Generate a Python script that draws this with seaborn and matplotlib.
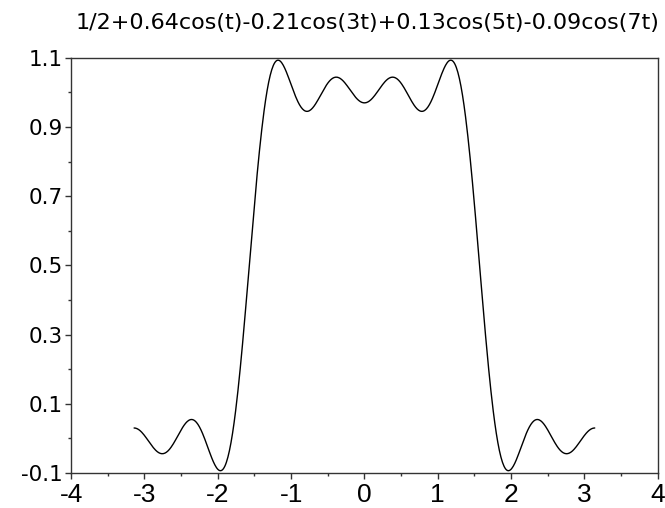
import numpy as np
import pandas as pd
import matplotlib
matplotlib.use('Agg')
import matplotlib.pyplot as plt
import seaborn as sns

# partial Fourier sum of the square wave shown in the title
coefs = [0.5, 0.64, -0.21, 0.13, -0.09]
harmonics = [0, 1, 3, 5, 7]
t = np.linspace(-np.pi, np.pi, 600)

x_ticks = [-4, -3, -2, -1, 0, 1, 2, 3, 4]
x_minor = [-3.5, -2.5, -1.5, -0.5, 0.5, 1.5, 2.5, 3.5]
y_ticks = [-0.1, 0.1, 0.3, 0.5, 0.7, 0.9, 1.1]
y_minor = [0.0, 0.2, 0.4, 0.6, 0.8, 1.0]

y = sum(c * np.cos(k * t) for c, k in zip(coefs, harmonics))
df = pd.DataFrame({'t': t, 'f': y})

sns.set_style('ticks')
plt.rcParams['font.family'] = ['DejaVu Sans']
plt.rcParams['text.color'] = 'black'
plt.rcParams['xtick.labelcolor'] = 'black'
plt.rcParams['ytick.labelcolor'] = 'black'

fig = plt.figure(figsize=(6.65, 5.08), dpi=100)
ax = fig.add_axes([0.107, 0.069, 0.882, 0.817])

sns.lineplot(data=df, x='t', y='f', color='black', linewidth=1.0, ax=ax)

ax.set_xlim(-4, 4)
ax.set_ylim(-0.1, 1.1)
ax.set_xticks(x_ticks)
ax.set_xticks(x_minor, minor=True)
ax.set_yticks(y_ticks)
ax.set_yticks(y_minor, minor=True)
ax.set_xticklabels([str(v) for v in x_ticks],
                   family=['Liberation Sans', 'DejaVu Sans'], fontsize=19)
ax.set_yticklabels([f'{v:.1f}' for v in y_ticks], fontsize=15.5)

ax.tick_params(which='major', length=4.5, width=1, color='#333333')
ax.tick_params(axis='y', which='major', pad=1.5)
ax.tick_params(axis='x', which='major', pad=3)
ax.tick_params(which='minor', length=2.3, width=1, color='#333333')
for s in ax.spines.values():
    s.set_color('#333333')
    s.set_linewidth(1)

ax.set_xlabel('')
ax.set_ylabel('')
ax.set_title('1/2+0.64cos(t)-0.21cos(3t)+0.13cos(5t)-0.09cos(7t)',
             fontsize=16, pad=21, x=0.505)

fig.savefig('out.png', dpi=100)
